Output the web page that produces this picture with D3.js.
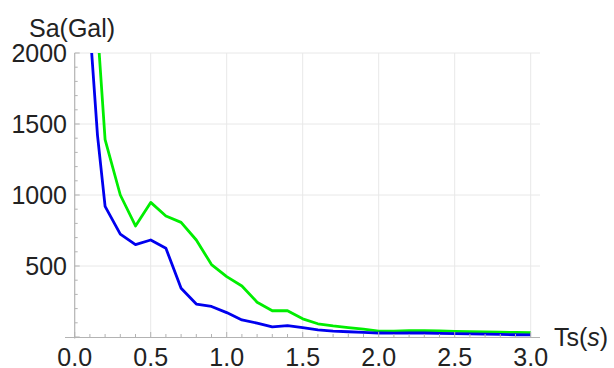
<!DOCTYPE html>
<html>
<head>
<meta charset="utf-8">
<script src="https://cdn.jsdelivr.net/npm/d3@7"></script>
<style>
html,body{margin:0;padding:0;background:#fff;}
svg{display:block;}
text{font-family:"Liberation Sans",Arial,sans-serif;fill:#222;}
</style>
</head>
<body>
<svg id="chart" width="614" height="368"></svg>
<script>
// Data
const periods = [0.1,0.15,0.2,0.3,0.4,0.5,0.6,0.7,0.8,0.9,1.0,1.1,1.2,1.3,1.4,1.5,1.6,1.7,1.8,1.9,2.0,2.1,2.2,2.3,2.4,2.5,2.6,2.7,2.8,2.9,3.0];
const blueSa  = [2180,1420,920,725,650,683,625,343,232,215,172,120,98,72,80,66,50,42,37,33,28,27,28,28,26,24,22,20,18,16,15];
const greenSa = [3100,2175,1390,1000,782,948,852,807,683,510,425,359,245,185,185,128,93,78,66,55,42,42,44,45,43,40,38,36,34,32,31];
const xTicks = [0,0.5,1.0,1.5,2.0,2.5,3.0];
const xTickLabels = ["0.0","0.5","1.0","1.5","2.0","2.5","3.0"];
const yTicks = [500,1000,1500,2000];
const yTickLabels = ["500","1000","1500","2000"];
const xMinor = d3.range(0,31).map(i=>i/10);
const yMinor = d3.range(0,21).map(i=>i*100);

const svg = d3.select("#chart");
const x = d3.scaleLinear().domain([0,3]).range([74.7,530.7]);
const y = d3.scaleLinear().domain([0,2000]).range([337,53]);
const xRightEnd = 540;

// gridlines
const grid = svg.append("g");
grid.selectAll("line.gx").data(xTicks.slice(1)).enter().append("line")
  .attr("x1",d=>x(d)).attr("x2",d=>x(d)).attr("y1",y(0)).attr("y2",y(2000))
  .attr("stroke","#e8e8e8").attr("stroke-width",1);
grid.selectAll("line.gy").data(yTicks).enter().append("line")
  .attr("x1",x(0)).attr("x2",xRightEnd).attr("y1",d=>y(d)).attr("y2",d=>y(d))
  .attr("stroke","#e8e8e8").attr("stroke-width",1);

// clip
svg.append("clipPath").attr("id","clip").append("rect")
  .attr("x",x(0)).attr("y",y(2000)).attr("width",xRightEnd-x(0)).attr("height",y(0)-y(2000));

const line = d3.line().x((d,i)=>x(periods[i])).y(d=>y(d));
const plot = svg.append("g").attr("clip-path","url(#clip)");
plot.append("path").datum(greenSa).attr("d",line).attr("fill","none")
  .attr("stroke","#00ee00").attr("stroke-width",2.8).attr("stroke-linejoin","round");
plot.append("path").datum(blueSa).attr("d",line).attr("fill","none")
  .attr("stroke","#0000ee").attr("stroke-width",2.8).attr("stroke-linejoin","round");

// axes
const axisColor = "#b3b3b3";
const ax = svg.append("g");
ax.append("line").attr("x1",65).attr("x2",xRightEnd).attr("y1",y(0)+0.5).attr("y2",y(0)+0.5)
  .attr("stroke",axisColor).attr("stroke-width",1.2);
ax.append("line").attr("x1",x(0)).attr("x2",x(0)).attr("y1",y(2000)).attr("y2",y(0)+1.5)
  .attr("stroke",axisColor).attr("stroke-width",1.2);
// x ticks (inward)
ax.selectAll("line.xm").data(xMinor).enter().append("line")
  .attr("x1",d=>x(d)).attr("x2",d=>x(d))
  .attr("y1",y(0)).attr("y2",d=>y(0) - (Math.abs(d*2-Math.round(d*2))<1e-6 ? 5 : 3))
  .attr("stroke",axisColor).attr("stroke-width",1);
// y ticks (inward)
ax.selectAll("line.ym").data(yMinor).enter().append("line")
  .attr("y1",d=>y(d)).attr("y2",d=>y(d))
  .attr("x1",x(0)).attr("x2",d=>x(0) + (d%500===0 ? 5 : 3))
  .attr("stroke",axisColor).attr("stroke-width",1);

// tick labels
svg.selectAll("text.xl").data(xTicks).enter().append("text")
  .attr("x",d=>x(d)).attr("y",366).attr("text-anchor","middle")
  .attr("font-size",25).text((d,i)=>xTickLabels[i]);
svg.selectAll("text.yl").data(yTicks).enter().append("text")
  .attr("x",67).attr("y",d=>y(d)+9).attr("text-anchor","end")
  .attr("font-size",25).text((d,i)=>yTickLabels[i]);

// axis titles
svg.append("text").attr("x",29).attr("y",37).attr("font-size",25).text("Sa(Gal)");
const tl = svg.append("text").attr("x",554).attr("y",346).attr("font-size",25);
tl.append("tspan").text("Ts(");
tl.append("tspan").attr("font-style","italic").text("s");
tl.append("tspan").text(")");
</script>
</body>
</html>
